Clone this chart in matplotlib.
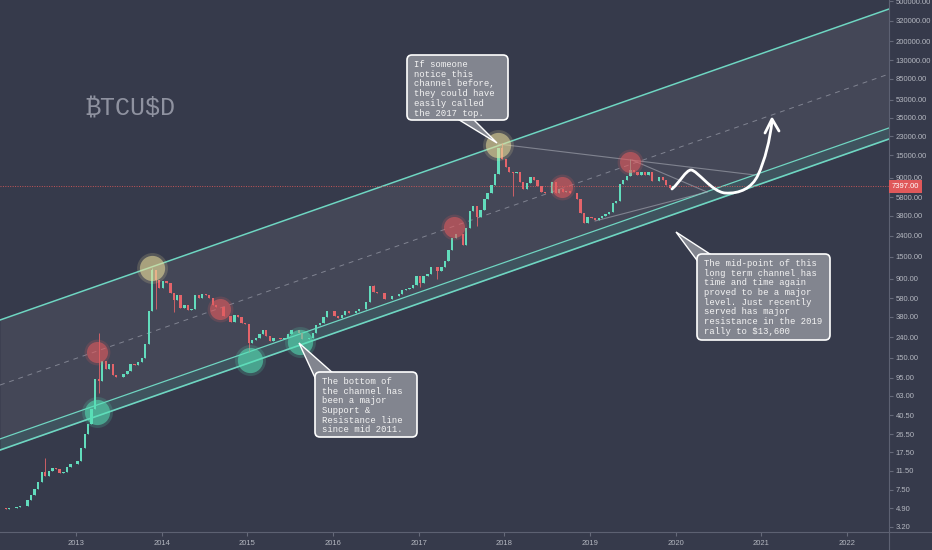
import matplotlib
matplotlib.use('Agg')
import matplotlib.pyplot as plt
import matplotlib.transforms as mtrans
from matplotlib.patches import Polygon, PathPatch, FancyBboxPatch
from matplotlib.path import Path
import numpy as np
import pandas as pd

# 1. DATA - half-month closes (first / second half of each month), from Feb 2012
closes_2012 = [4.9, 4.9, 4.8, 4.9, 4.9, 5.0, 5.1, 5.1, 5.9, 6.6, 7.6, 8.9,
               11.2, 10.2, 11.4, 12.3, 11.9, 10.9, 11.1, 12.4, 13.3, 13.5]
closes_2013 = [14.2, 19.5, 26.5, 33.0, 47.0, 93.0, 88.0, 139.0, 115.0, 129.0, 101.0, 96.0,
               96.0, 104.0, 110.0, 130.0, 127.0, 136.0, 148.0, 204.0, 430.0, 1100.0, 880.0, 740.0]
closes_2014 = [860, 820, 650, 560, 630, 470, 500, 445, 450, 620, 590, 640,
               620, 590, 500, 480, 475, 390, 390, 340, 395, 375, 330, 320]
closes_2015 = [210, 225, 235, 255, 285, 245, 222, 236, 237, 230, 235, 260,
               285, 285, 262, 230, 230, 237, 262, 315, 330, 375, 435, 430]
closes_2016 = [385, 370, 400, 435, 415, 415, 430, 450, 455, 530, 760, 670,
               660, 655, 570, 575, 610, 610, 640, 700, 710, 740, 780, 960]
closes_2017 = [830, 970, 1010, 1190, 1170, 1070, 1190, 1350, 1750, 2300, 2500, 2480,
               1950, 2850, 4200, 4700, 3700, 4350, 5600, 6400, 7700, 9900, 17500, 13800]
closes_2018 = [11500, 10200, 10000, 10300, 8200, 6900, 8000, 9200, 8500, 7500, 6500, 6400,
               6300, 8200, 6300, 7000, 6500, 6600, 6300, 6300, 5600, 4000, 3250, 3700]
closes_2019 = [3600, 3450, 3600, 3800, 3900, 4100, 5100, 5300, 7800, 8600, 9300, 10800,
               10200, 9600, 10300, 9600, 10300, 8300, 8300, 9150, 8500, 7550, 7100, 7397]

# notable wicks (period start -> extreme)
wick_highs = {'2012-08-15': 15.4, '2013-04-01': 266, '2013-11-15': 1160,
              '2016-06-15': 780, '2017-12-15': 19700, '2019-06-15': 13800}
wick_lows = {'2013-04-01': 68, '2013-12-01': 450, '2015-01-01': 170, '2014-02-15': 420,
             '2017-01-01': 750, '2017-03-15': 890, '2017-09-01': 2970, '2018-02-01': 6000}

last_price = 7397.0

# channel anchors (year, price)
channel_years = [2012.113, 2022.49]
channel_upper = [354, 417000]
channel_lower_a = [23.7, 27900]
channel_lower_b = [18.4, 21700]

# wedge lines (year, price)
top_line = ([2017.926, 2020.926], [19370, 9570])
wedge_res = ([2019.49, 2020.366], [13460, 6502])
wedge_sup = ([2019.059, 2020.366], [3363, 6502])

# highlighted touches (year, price)
yellow_pts = ([2013.886, 2017.93], [1154, 18900])
red_pts = ([2013.243, 2014.68, 2017.41, 2018.675, 2019.47], [171, 454, 2925, 7268, 12830])
green_pts = ([2013.243, 2015.03, 2015.615], [43.7, 142, 214])

price_ticks = [3.2, 4.9, 7.5, 11.5, 17.5, 26.5, 40.5, 63, 95, 150, 240, 380, 580, 900,
               1500, 2400, 3800, 5800, 9000, 15000, 23000, 35000, 53000, 85000,
               130000, 200000, 320000, 500000]
year_ticks = list(range(2013, 2023))

# 2. PREP
closes = (closes_2012 + closes_2013 + closes_2014 + closes_2015 +
          closes_2016 + closes_2017 + closes_2018 + closes_2019)
starts = pd.date_range('2012-02-01', periods=len(closes), freq='SMS')
xs = np.array([d.year + (d.dayofyear - 1 + 7) / 365.25 for d in starts])

BG = '#363a4b'
UP = '#62dcbc'
DOWN = '#e4646a'
TEAL = '#6fd6c2'
MONO = ['Liberation Mono', 'DejaVu Sans Mono', 'DejaVu Sans']

fig = plt.figure(figsize=(9.32, 5.5), dpi=100, facecolor=BG)
ax = fig.add_axes([0, 18 / 550, 889 / 932, 532 / 550], facecolor=BG)
px = mtrans.Affine2D().scale(1 / 932, -1 / 550).translate(0, 1) + fig.transFigure

ax.set_yscale('log')
ax.set_xlim(2012.113, 2022.49)
ax.set_ylim(2.856, 511700)

# 3. CHANNEL
upper = np.array(channel_upper, float)
low_a = np.array(channel_lower_a, float)
low_b = np.array(channel_lower_b, float)
mid = np.sqrt(upper * low_b)
ax.fill_between(channel_years, low_a, upper, color='white', alpha=0.07, lw=0, zorder=1)
ax.fill_between(channel_years, low_b, low_a, color=TEAL, alpha=0.16, lw=0, zorder=1)
ax.plot(channel_years, upper, color=TEAL, lw=1.1, zorder=2)
ax.plot(channel_years, low_a, color=TEAL, lw=0.9, zorder=2)
ax.plot(channel_years, low_b, color=TEAL, lw=1.2, zorder=2)
ax.plot(channel_years, mid, color='#9a9daa', lw=0.7, ls=(0, (5, 5)), alpha=0.7, zorder=2)

# wedge lines from the 2017 top and the 2019 range
ax.plot(*top_line, color='#a8abb5', lw=0.8, alpha=0.6, zorder=2)
ax.plot(*wedge_res, color='#a8abb5', lw=0.8, alpha=0.6, zorder=2)
ax.plot(*wedge_sup, color='#a8abb5', lw=0.8, alpha=0.6, zorder=2)

# 4. CANDLES
for i, (x, c) in enumerate(zip(xs, closes)):
    o = closes[i - 1] if i > 0 else c
    key = starts[i].strftime('%Y-%m-%d')
    hi = max(o, c, wick_highs.get(key, 0))
    lo = min(o, c, wick_lows.get(key, 1e9))
    col = UP if c >= o else DOWN
    ax.vlines(x, lo, hi, color=col, lw=0.6, zorder=3)
    ax.bar(x, abs(c - o), bottom=min(o, c), width=0.027, color=col, lw=0, zorder=3)

# last price line + label
ax.axhline(last_price, color='#e05a5a', lw=0.7, ls=(0, (1, 1.5)), alpha=0.85, zorder=2)
ax.text(1.003, last_price, f'{last_price:.2f}', transform=mtrans.blended_transform_factory(ax.transAxes, ax.transData),
        ha='left', va='center', fontsize=5.5, color='white', family='Liberation Sans', clip_on=False,
        bbox=dict(boxstyle='square,pad=0.35', fc='#e0585a', ec='none'), zorder=10)

# 5. GLOW CIRCLES
for pts, col, s in [(yellow_pts, '#ecdf9c', 330), (red_pts, '#e25b5e', 230), (green_pts, '#55e2b6', 330)]:
    ax.scatter(*pts, s=s * 1.5, color=col, alpha=0.18, lw=0, zorder=4)
    ax.scatter(*pts, s=s, color=col, alpha=0.55, lw=0, zorder=4)

# 6. CALLOUTS
def callout(box, wedge, text):
    x0, y0, x1, y1 = box
    fig.patches.append(Polygon(wedge, closed=True, fc='#82858f', ec='white', lw=1.0,
                               transform=px, zorder=5))
    fig.patches.append(FancyBboxPatch((x0, y0), x1 - x0, y1 - y0,
                                      boxstyle='round,pad=0,rounding_size=5',
                                      fc='#82858f', ec='white', lw=1.2, transform=px, zorder=6))
    fig.text(x0 + 7, y0 + 5, text, transform=px, ha='left', va='top', fontsize=6.4,
             family=MONO, color='#f4f4f4', linespacing=1.1, zorder=7)

callout((407, 55, 508, 120), [(456, 118), (497, 143), (472, 118)],
        'If someone\nnotice this\nchannel before,\nthey could have\neasily called\nthe 2017 top.')
callout((315, 372, 417, 437), [(317, 382), (299, 343), (334, 374)],
        'The bottom of\nthe channel has\nbeen a major\nSupport &\nResistance line\nsince mid 2011.')
callout((697, 254, 830, 340), [(699, 263), (676, 232), (713, 256)],
        'The mid-point of this\nlong term channel has\ntime and time again\nproved to be a major\n'
        'level. Just recently\nserved has major\nresistance in the 2019\nrally to $13,600')

# forecast arrow
verts = [(672, 189), (680, 182), (686, 170), (691, 170),
         (697, 170), (712, 192), (725, 193),
         (740, 194), (752, 188), (758, 175),
         (765, 160), (770, 140), (772, 121)]
codes = [Path.MOVETO] + [Path.CURVE4] * 12
fig.patches.append(PathPatch(Path(verts, codes), fc='none', ec='white', lw=2.0,
                             transform=px, zorder=8, capstyle='round'))
fig.lines.append(plt.Line2D([765, 772, 779], [133, 119, 131], color='white', lw=2.0,
                            transform=px, zorder=8, solid_capstyle='round', solid_joinstyle='round'))

fig.text(85, 108, '\u20bfTCU$D', transform=px, ha='left', va='center', fontsize=18,
         family=MONO, color='#8f92a0')

# 7. AXES FORMATTING
ax.yaxis.tick_right()
ax.set_yticks(price_ticks)
ax.set_yticklabels([f'{t:.2f}' for t in price_ticks])
ax.yaxis.set_minor_locator(matplotlib.ticker.NullLocator())
ax.set_xticks(year_ticks)
ax.set_xticklabels([str(y) for y in year_ticks])
ax.tick_params(axis='y', length=3, color='#666a7a', labelsize=5.5, labelcolor='#b4b7c0', pad=2)
ax.tick_params(axis='x', length=3, color='#666a7a', labelsize=5.5, labelcolor='#b4b7c0', pad=3)
for lab in ax.get_xticklabels() + ax.get_yticklabels():
    lab.set_family('Liberation Sans')
for side in ['top', 'left']:
    ax.spines[side].set_visible(False)
for side in ['right', 'bottom']:
    ax.spines[side].set_color('#5d6172')
    ax.spines[side].set_linewidth(0.8)
fig.lines.append(plt.Line2D([889, 932], [532, 532], color='#5d6172', lw=0.8, transform=px))
fig.lines.append(plt.Line2D([889, 889], [532, 550], color='#5d6172', lw=0.8, transform=px))

plt.savefig('out.png', dpi=100, facecolor=BG)
